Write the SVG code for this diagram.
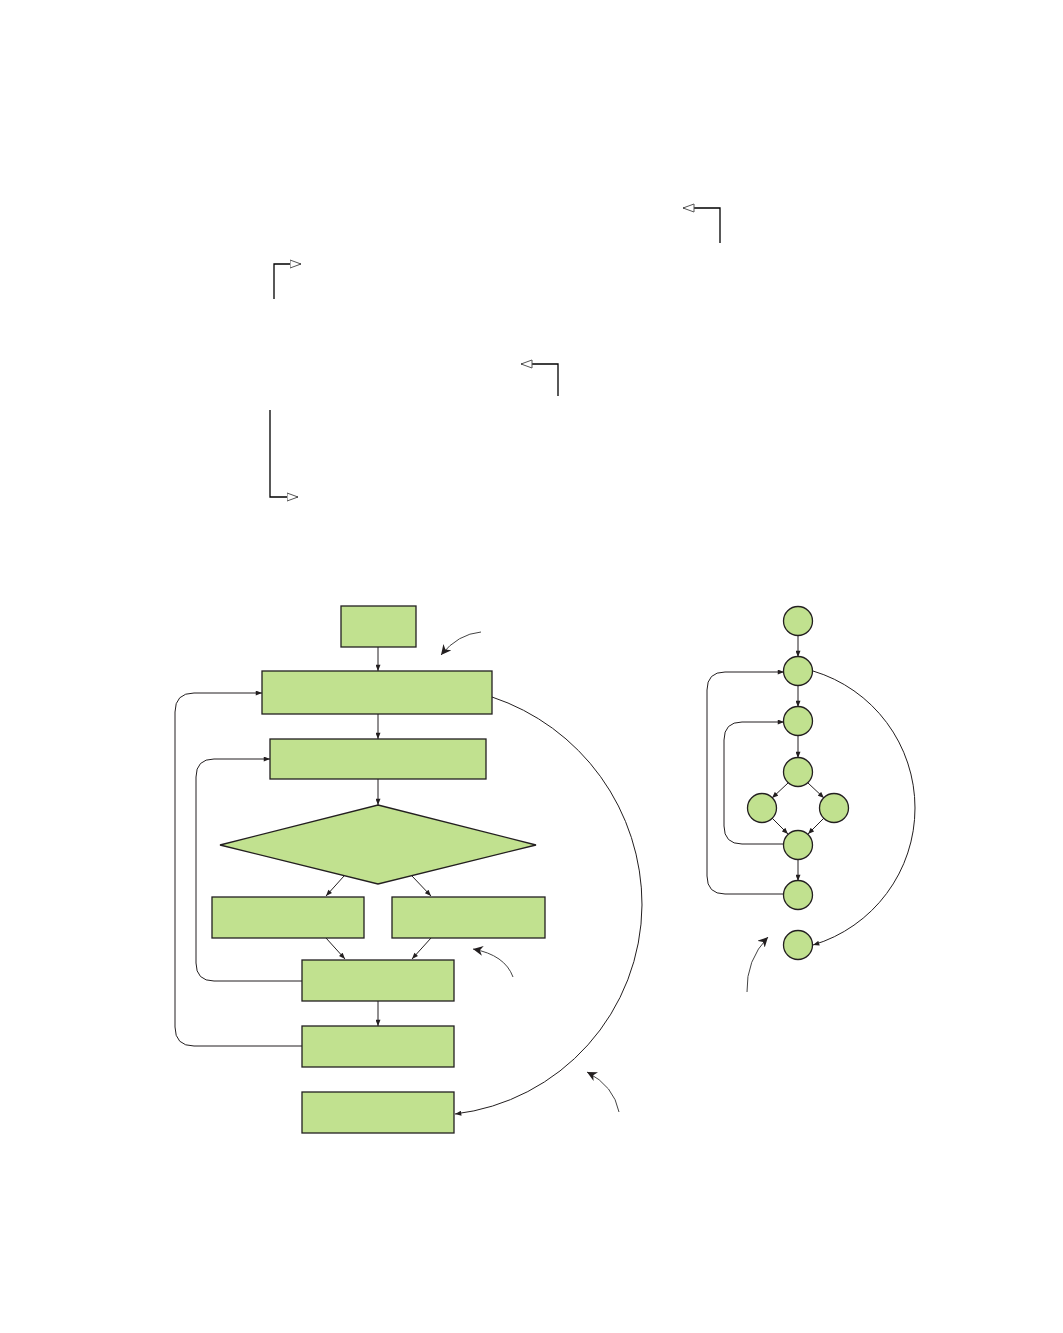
<svg xmlns="http://www.w3.org/2000/svg" width="1063" height="1333" viewBox="0 0 1063 1333">
<style>
.n{fill:#c1e18f;stroke:#231f20;stroke-width:1.3}
.c{fill:none;stroke:#231f20;stroke-width:1}
.o{fill:none;stroke:#000;stroke-width:1.3}
.a{fill:none;stroke:#444;stroke-width:1}
</style>
<defs>
<marker id="ah" viewBox="0 0 10 8" refX="10" refY="4" markerWidth="7" markerHeight="5" orient="auto" markerUnits="userSpaceOnUse"><path d="M0 0L10 4L0 8z" fill="#231f20"/></marker>
<marker id="big" viewBox="0 0 10 10" refX="10" refY="5" markerWidth="10" markerHeight="10" orient="auto" markerUnits="userSpaceOnUse"><path d="M0 0L10 5L0 10L3 5z" fill="#231f20"/></marker>
<marker id="open" viewBox="0 0 12 10" refX="11.5" refY="5" markerWidth="12" markerHeight="10" orient="auto" markerUnits="userSpaceOnUse"><path d="M0.5 1L11.5 5L0.5 9z" fill="#fff" stroke="#555" stroke-width="1"/></marker>
</defs>
<rect width="1063" height="1333" fill="#fff"/>
<g id="callouts">
<path class="o" d="M720 243V208H683" marker-end="url(#open)"/>
<path class="o" d="M274 299V264H301" marker-end="url(#open)"/>
<path class="o" d="M558 396V364H521" marker-end="url(#open)"/>
<path class="o" d="M270 410V497H298" marker-end="url(#open)"/>
<path class="a" d="M481 632Q458 634 441 655" marker-end="url(#big)"/>
<path class="a" d="M513 977Q505 955 473 949" marker-end="url(#big)"/>
<path class="a" d="M619 1112Q614 1086 587 1072" marker-end="url(#big)"/>
<path class="a" d="M747 992Q746 960 768 937" marker-end="url(#big)"/>
</g>
<g id="connectors">
<path class="c" d="M378 647V671" marker-end="url(#ah)"/>
<path class="c" d="M378 714V739" marker-end="url(#ah)"/>
<path class="c" d="M378 779V805" marker-end="url(#ah)"/>
<path class="c" d="M344 876L326 896" marker-end="url(#ah)"/>
<path class="c" d="M412 876L431 896" marker-end="url(#ah)"/>
<path class="c" d="M326 938L345 959" marker-end="url(#ah)"/>
<path class="c" d="M431 938L412 959" marker-end="url(#ah)"/>
<path class="c" d="M378 1001V1026" marker-end="url(#ah)"/>
<path class="c" d="M302 981H214Q196 981 196 963V777Q196 759 214 759H270" marker-end="url(#ah)"/>
<path class="c" d="M302 1046H194Q175 1046 175 1027V712Q175 693 194 693H262" marker-end="url(#ah)"/>
<path class="c" d="M492 697A219 219 0 0 1 642 905A212 212 0 0 1 455 1114" marker-end="url(#ah)"/>
<path class="c" d="M798 636V657" marker-end="url(#ah)"/>
<path class="c" d="M798 686V707" marker-end="url(#ah)"/>
<path class="c" d="M798 736V758" marker-end="url(#ah)"/>
<path class="c" d="M788 783L772 798" marker-end="url(#ah)"/>
<path class="c" d="M808 783L824 798" marker-end="url(#ah)"/>
<path class="c" d="M772 818L788 834" marker-end="url(#ah)"/>
<path class="c" d="M824 818L808 834" marker-end="url(#ah)"/>
<path class="c" d="M798 860V881" marker-end="url(#ah)"/>
<path class="c" d="M784 844H742Q724 844 724 826V740Q724 722 742 722H784" marker-end="url(#ah)"/>
<path class="c" d="M784 894H725Q707 894 707 876V690Q707 672 725 672H784" marker-end="url(#ah)"/>
<path class="c" d="M813 671A143 143 0 0 1 915 808A143 143 0 0 1 813 945" marker-end="url(#ah)"/>
</g>
<g id="start"><rect class="n" x="341" y="606" width="75" height="41"/></g>
<g id="box2"><rect class="n" x="262" y="671" width="230" height="43"/></g>
<g id="box3"><rect class="n" x="270" y="739" width="216" height="40"/></g>
<g id="decision"><path class="n" d="M378 805L536 845L378 884L220 845z"/></g>
<g id="boxL"><rect class="n" x="212" y="897" width="152" height="41"/></g>
<g id="boxR"><rect class="n" x="392" y="897" width="153" height="41"/></g>
<g id="boxM"><rect class="n" x="302" y="960" width="152" height="41"/></g>
<g id="box6"><rect class="n" x="302" y="1026" width="152" height="41"/></g>
<g id="box7"><rect class="n" x="302" y="1092" width="152" height="41"/></g>
<g id="c1"><circle class="n" cx="798" cy="621" r="14.5"/></g>
<g id="c2"><circle class="n" cx="798" cy="671" r="14.5"/></g>
<g id="c3"><circle class="n" cx="798" cy="721" r="14.5"/></g>
<g id="c4"><circle class="n" cx="798" cy="772" r="14.5"/></g>
<g id="c5"><circle class="n" cx="762" cy="808" r="14.5"/></g>
<g id="c6"><circle class="n" cx="834" cy="808" r="14.5"/></g>
<g id="c7"><circle class="n" cx="798" cy="845" r="14.5"/></g>
<g id="c8"><circle class="n" cx="798" cy="895" r="14.5"/></g>
<g id="c9"><circle class="n" cx="798" cy="945" r="14.5"/></g>
</svg>
